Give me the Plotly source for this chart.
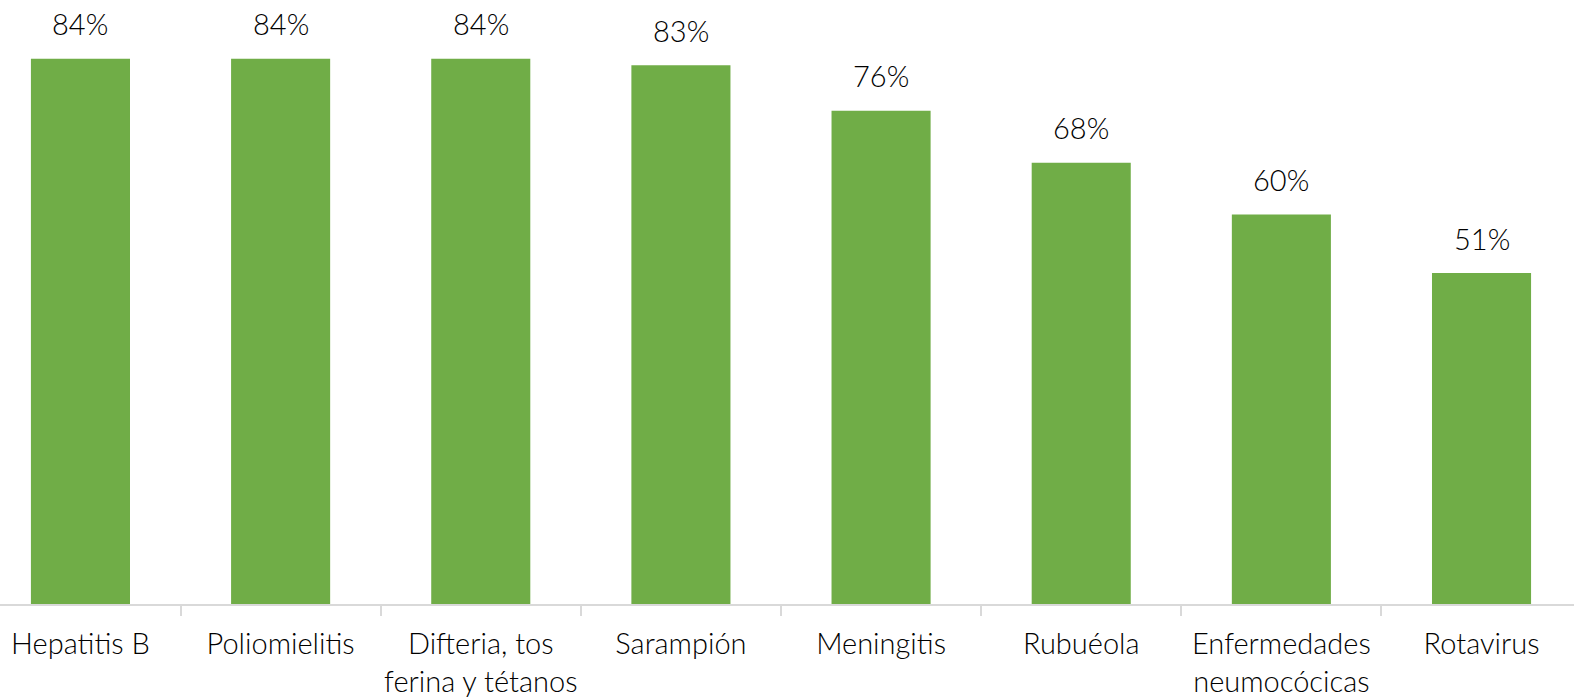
import plotly.graph_objects as go

categories = ["Hepatitis B", "Poliomielitis", "Difteria, tos<br>ferina y tétanos", "Sarampión",
              "Meningitis", "Rubuéola", "Enfermedades<br>neumocócicas", "Rotavirus"]
values = [84, 84, 84, 83, 76, 68, 60, 51]
value_labels = [f"{v}%" for v in values]

GREEN = "#70AD47"
FONT = "Lato"

fig = go.Figure()
fig.add_trace(go.Bar(
    x=categories, y=values, marker=dict(color=GREEN, line=dict(width=0)),
    width=0.495, hoverinfo="skip",
))

for c, v, t in zip(categories, values, value_labels):
    fig.add_annotation(x=c, y=v, text=t, showarrow=False, yanchor="middle", yshift=35,
                       font=dict(family=FONT, size=29, color="#000000", weight=300))

fig.update_layout(
    width=1574, height=700,
    margin=dict(l=0, r=0, t=0, b=96, pad=0, autoexpand=False),
    plot_bgcolor="white", paper_bgcolor="white",
    showlegend=False,
    xaxis=dict(
        range=[-0.402, 7.462], showgrid=False, zeroline=False, automargin=False,
        showline=True, linecolor="#d9d9d9", linewidth=2,
        ticks="outside", tickson="boundaries", ticklen=10, tickcolor="#d9d9d9", tickwidth=2,
        ticklabelstandoff=13, tickangle=0,
        tickfont=dict(family=FONT, size=29, color="#000000", weight=300),
        fixedrange=True,
    ),
    yaxis=dict(range=[0, 93.07], visible=False, fixedrange=True, automargin=False),
)

fig.write_html("out.html", config={"displayModeBar": False},
               post_script="document.body.style.margin='0';document.body.style.overflow='hidden';")
